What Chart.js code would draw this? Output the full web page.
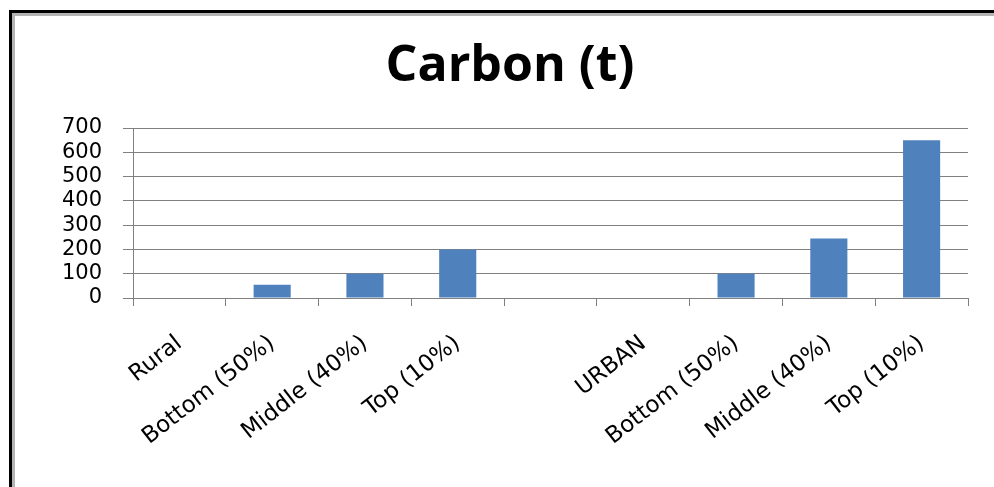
<!DOCTYPE html>
<html>
<head>
<meta charset="utf-8">
<script src="https://cdn.jsdelivr.net/npm/chart.js@4.4.1/dist/chart.umd.min.js"></script>
<style>
  body { margin: 0; background: #fff; overflow: hidden; }
  #frame { position: absolute; left: 9px; top: 10px; width: 2000px; height: 2000px;
           border-left: 3px solid #000; border-top: 3px solid #000; }
  #frame-inner { width: 100%; height: 100%; border-left: 3px solid #b4b4b4; border-top: 3px solid #b4b4b4; }
  #wrap { position: absolute; left: 15px; top: 15px; width: 990px; height: 472px; }
</style>
</head>
<body>
<div id="frame"><div id="frame-inner"></div></div>
<div id="wrap"><canvas id="barChart"></canvas></div>
<script>
// data
const categories = ["Rural", "Bottom (50%)", "Middle (40%)", "Top (10%)", "", "URBAN", "Bottom (50%)", "Middle (40%)", "Top (10%)"];
const carbon = [0, 55, 100, 200, null, 0, 100, 245, 650];
const yMin = 0, yMax = 700, yStep = 100;

const gridGray = "#808080";
var ctx = document.getElementById("barChart").getContext("2d");

var barChart = new Chart(ctx, {
  type: "bar",
  data: {
    labels: categories,
    datasets: [
      {
        label: "Carbon (t)",
        data: carbon,
        backgroundColor: "#4f81bd",
        categoryPercentage: 1,
        barPercentage: 0.4
      }
    ]
  },
  options: {
    responsive: true,
    maintainAspectRatio: false,
    animation: false,
    layout: { padding: { left: 37, right: 37, top: 0, bottom: 0 } },
    plugins: {
      legend: { display: false },
      tooltip: { enabled: false },
      title: {
        display: true,
        text: "Carbon (t)",
        color: "#000",
        font: { family: "Open Sans", size: 50, weight: "bold" },
        padding: { top: 22, bottom: 31 }
      }
    },
    scales: {
      x: {
        grid: { drawOnChartArea: false, color: gridGray, tickLength: 8, offset: true },
        border: { color: gridGray },
        ticks: {
          color: "#000",
          font: { family: "DejaVu Sans", size: 23 },
          minRotation: 38,
          maxRotation: 38,
          autoSkip: false,
          padding: 24
        },
        afterFit: function (scale) { scale.height = 189; }
      },
      y: {
        min: yMin,
        max: yMax,
        grid: { color: gridGray, tickLength: 10 },
        border: { color: gridGray },
        ticks: {
          stepSize: yStep,
          autoSkip: false,
          color: "#000",
          font: { family: "DejaVu Sans", size: 21 },
          padding: 21
        },
        afterFit: function (scale) { scale.width = 81; }
      }
    }
  }
});
</script>
</body>
</html>
